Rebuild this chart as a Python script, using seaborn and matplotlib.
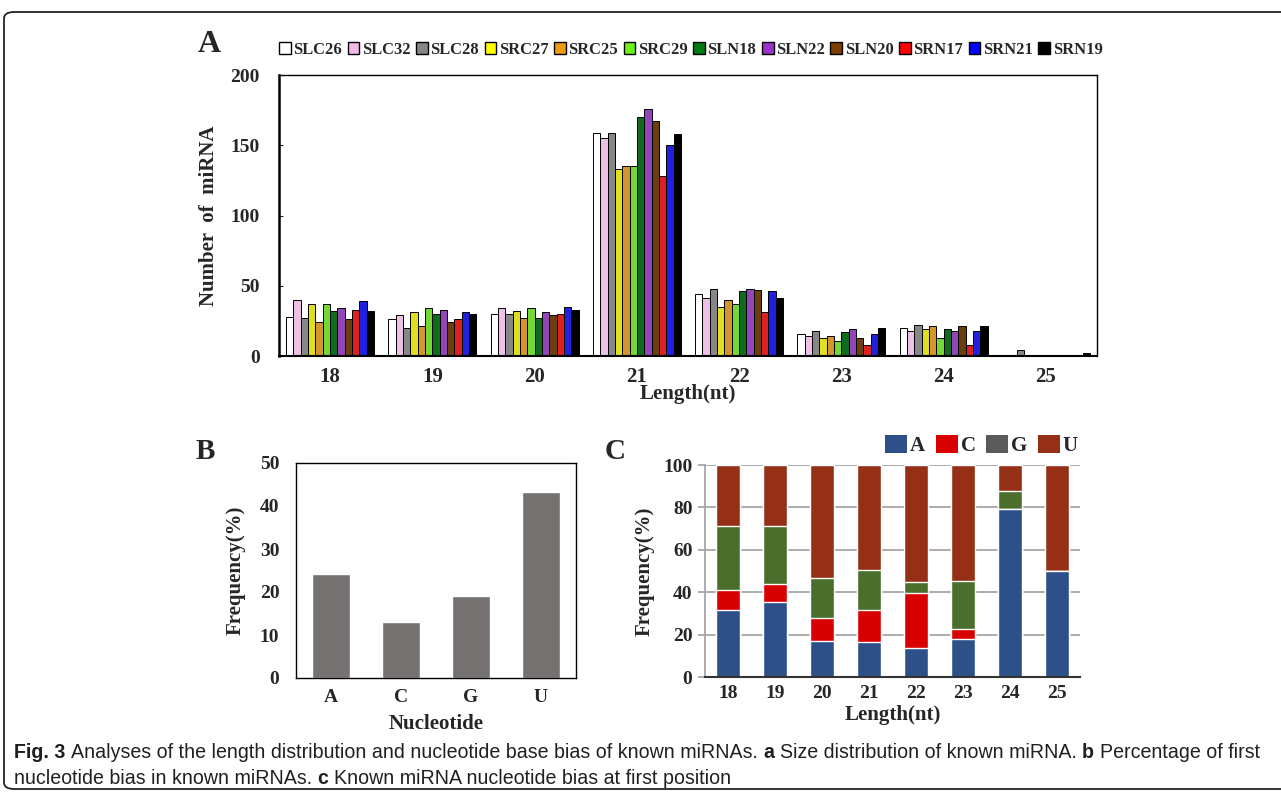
import matplotlib
matplotlib.use('Agg')
import matplotlib.pyplot as plt
import seaborn as sns
import pandas as pd
from matplotlib.patches import Patch, FancyBboxPatch

# ---------------- data ----------------
lengths = ['18', '19', '20', '21', '22', '23', '24', '25']
samples = ['SLC26', 'SLC32', 'SLC28', 'SRC27', 'SRC25', 'SRC29',
           'SLN18', 'SLN22', 'SLN20', 'SRN17', 'SRN21', 'SRN19']
SLC26 = [28, 26, 30, 159, 44, 16, 20, 1]
SLC32 = [40, 29, 34, 155, 41, 14, 18, 0]
SLC28 = [27, 20, 30, 159, 48, 18, 22, 4]
SRC27 = [37, 31, 32, 133, 35, 13, 19, 0]
SRC25 = [24, 21, 27, 135, 40, 14, 21, 0]
SRC29 = [37, 34, 34, 135, 37, 11, 13, 0]
SLN18 = [32, 30, 27, 170, 46, 17, 19, 1]
SLN22 = [34, 33, 31, 176, 48, 19, 18, 1]
SLN20 = [26, 24, 29, 167, 47, 13, 21, 1]
SRN17 = [33, 26, 30, 128, 31, 8, 8, 0]
SRN21 = [39, 31, 35, 150, 46, 16, 18, 1]
SRN19 = [32, 30, 33, 158, 41, 20, 21, 2]
sample_values = [SLC26, SLC32, SLC28, SRC27, SRC25, SRC29,
                 SLN18, SLN22, SLN20, SRN17, SRN21, SRN19]
sample_colors = ['#FFFFFF', '#F4B9EA', '#878787', '#FFFF00', '#F09A12', '#6CF21A',
                 '#007A12', '#9933CC', '#7A3E00', '#FF0000', '#0000FF', '#000000']

nucleotides = ['A', 'C', 'G', 'U']
nuc_freq = [24.1, 13.0, 19.1, 43.3]

freq_A = [31.8, 35.6, 17.0, 16.7, 13.9, 18.1, 79.2, 50.0]
freq_C = [9.3, 8.5, 10.9, 15.1, 25.8, 4.6, 0.0, 0.0]
freq_G = [30.2, 27.1, 19.0, 18.9, 5.3, 22.8, 8.4, 0.0]
freq_U = [28.7, 28.8, 53.1, 49.3, 55.0, 54.5, 12.4, 50.0]
stack_colors = {'A': '#2E5089', 'C': '#D80000', 'G': '#4C6E2C', 'U': '#953016'}
legend_colors = {'A': '#2E5089', 'C': '#D80000', 'G': '#5A5A5A', 'U': '#953016'}

caption_line1 = [("Fig. 3", 'bold'),
                 ("Analyses of the length distribution and nucleotide base bias of known miRNAs.", 'normal'),
                 ("a", 'bold'), ("Size distribution of known miRNA.", 'normal'),
                 ("b", 'bold'), ("Percentage of first", 'normal')]
caption_line2 = [("nucleotide bias in known miRNAs.", 'normal'), ("c", 'bold'),
                 ("Known miRNA nucleotide bias at first position", 'normal')]

# ---------------- style ----------------
sns.set_theme(style='white')
plt.rcParams['font.family'] = ['Liberation Serif', 'DejaVu Serif']
plt.rcParams['font.weight'] = 'bold'

W, H = 1281, 797
fig = plt.figure(figsize=(W / 100, H / 100), dpi=100)


def rect(l, t, r, b):
    return [l / W, 1 - b / H, (r - l) / W, (b - t) / H]


# outer border
border = FancyBboxPatch((4 / W, 8 / H), 1.2, 1 - 20 / H,
                        boxstyle="round,pad=0,rounding_size=0.008",
                        transform=fig.transFigure, fill=False,
                        edgecolor='#222222', linewidth=1.3, clip_on=False)
fig.patches.append(border)

# ---------------- Panel A ----------------
axA = fig.add_axes(rect(279, 75, 1097, 356))
dfA = pd.DataFrame([(l, s, v[i]) for s, v in zip(samples, sample_values)
                    for i, l in enumerate(lengths)], columns=['Length', 'Sample', 'Count'])
sns.barplot(data=dfA, x='Length', y='Count', hue='Sample', order=lengths,
            hue_order=samples, palette=dict(zip(samples, sample_colors)),
            width=0.86, edgecolor='black', linewidth=0.7, legend=False, ax=axA)
axA.set_ylim(0, 200)
axA.set_xlim(-0.5, 7.5)
axA.set_yticks([0, 50, 100, 150, 200])
axA.tick_params(axis='y', direction='in', length=3, left=True, width=0.8,
                labelsize=14, pad=14)
axA.tick_params(axis='x', length=0, labelsize=15, pad=8)
for sp in axA.spines.values():
    sp.set_color('black')
    sp.set_linewidth(1.0)
axA.spines['left'].set_linewidth(1.8)
axA.spines['bottom'].set_linewidth(1.5)
axA.set_xlabel('Length(nt)', fontsize=15, fontweight='bold', labelpad=-2)
axA.set_ylabel('Number  of  miRNA', fontsize=15, fontweight='bold', labelpad=8)
for lab in axA.get_xticklabels() + axA.get_yticklabels():
    lab.set_fontweight('bold')

handlesA = [Patch(facecolor=c, edgecolor='black', linewidth=1.0) for c in sample_colors]
fig.legend(handlesA, samples, loc='lower left', bbox_to_anchor=(279 / W, 1 - 58 / H),
           ncol=12, frameon=False, handlelength=0.72, handleheight=0.72,
           handletextpad=0.15, columnspacing=0.33, borderaxespad=0, borderpad=0,
           prop={'family': 'Liberation Serif', 'weight': 'bold', 'size': 11.9})

# ---------------- Panel B ----------------
axB = fig.add_axes(rect(296, 463, 576, 678))
dfB = pd.DataFrame({'Nucleotide': nucleotides, 'Frequency': nuc_freq})
sns.barplot(data=dfB, x='Nucleotide', y='Frequency', color='#767171',
            saturation=1, width=0.53, ax=axB)
axB.set_ylim(0, 50)
axB.set_yticks([0, 10, 20, 30, 40, 50])
axB.tick_params(axis='both', length=0, labelsize=14)
axB.tick_params(axis='y', pad=12)
axB.tick_params(axis='x', pad=8)
for sp in axB.spines.values():
    sp.set_color('black')
    sp.set_linewidth(1.0)
axB.set_xlabel('Nucleotide', fontsize=15, fontweight='bold', labelpad=6)
axB.set_ylabel('Frequency(%)', fontsize=15, fontweight='bold', labelpad=10)
for lab in axB.get_xticklabels() + axB.get_yticklabels():
    lab.set_fontweight('bold')

# ---------------- Panel C ----------------
axC = fig.add_axes(rect(705, 465, 1080, 677))
axC.set_axisbelow(True)
axC.yaxis.grid(True, color='#A6A6A6', linewidth=1.3)
cum = [0.0] * len(lengths)
layers = []
for nuc, vals in zip(nucleotides, [freq_A, freq_C, freq_G, freq_U]):
    cum = [c + v for c, v in zip(cum, vals)]
    layers.append((nuc, list(cum)))
for nuc, tops in reversed(layers):
    dfC = pd.DataFrame({'Length': lengths, 'Top': tops})
    sns.barplot(data=dfC, x='Length', y='Top', order=lengths, color=stack_colors[nuc],
                saturation=1, width=0.51, ax=axC)
axC.set_ylim(0, 100)
axC.set_xlim(-0.5, 7.5)
axC.set_yticks([0, 20, 40, 60, 80, 100])
axC.tick_params(axis='y', left=True, length=5, color='#A6A6A6', width=1.3,
                labelsize=14, pad=4)
axC.tick_params(axis='x', length=0, labelsize=14, pad=6)
axC.spines['top'].set_visible(False)
axC.spines['right'].set_visible(False)
axC.spines['left'].set_color('#A6A6A6')
axC.spines['left'].set_linewidth(1.3)
axC.spines['bottom'].set_color('#333333')
axC.spines['bottom'].set_linewidth(1.5)
axC.set_xlabel('Length(nt)', fontsize=15, fontweight='bold', labelpad=2)
axC.set_ylabel('Frequency(%)', fontsize=15, fontweight='bold', labelpad=6)
for lab in axC.get_xticklabels() + axC.get_yticklabels():
    lab.set_fontweight('bold')

handlesC = [Patch(facecolor=legend_colors[n], edgecolor='none') for n in nucleotides]
fig.legend(handlesC, nucleotides, loc='lower right', bbox_to_anchor=(1078 / W, 1 - 456 / H),
           ncol=4, frameon=False, handlelength=1.05, handleheight=1.0,
           handletextpad=0.15, columnspacing=0.5, borderaxespad=0, borderpad=0,
           prop={'family': 'Liberation Serif', 'weight': 'bold', 'size': 15})

# ---------------- panel letters ----------------
fig.text(198 / W, 1 - 52 / H, 'A', fontsize=23, fontweight='bold', ha='left', va='baseline')
fig.text(196 / W, 1 - 459 / H, 'B', fontsize=21, fontweight='bold', ha='left', va='baseline')
fig.text(605 / W, 1 - 459 / H, 'C', fontsize=21, fontweight='bold', ha='left', va='baseline')

# ---------------- caption ----------------
renderer = fig.canvas.get_renderer()
cap_family = ['Liberation Sans Narrow', 'Liberation Sans', 'DejaVu Sans']
cap_size = 14.1


def width_of(s, weight):
    t = fig.text(0, 0, s, fontsize=cap_size, family=cap_family, fontweight=weight)
    w = t.get_window_extent(renderer=renderer).width
    t.remove()
    return w


space_w = width_of('a a', 'normal') - width_of('aa', 'normal')


def draw_line(segments, x0, y0):
    x = x0
    for s, wgt in segments:
        t = fig.text(x / W, 1 - y0 / H, s, fontsize=cap_size, family=cap_family,
                     fontweight=wgt, color='#231F20', ha='left', va='baseline')
        x += t.get_window_extent(renderer=renderer).width + space_w


draw_line(caption_line1, 14, 758)
draw_line(caption_line2, 14, 784)

fig.savefig('out.png', dpi=100)
